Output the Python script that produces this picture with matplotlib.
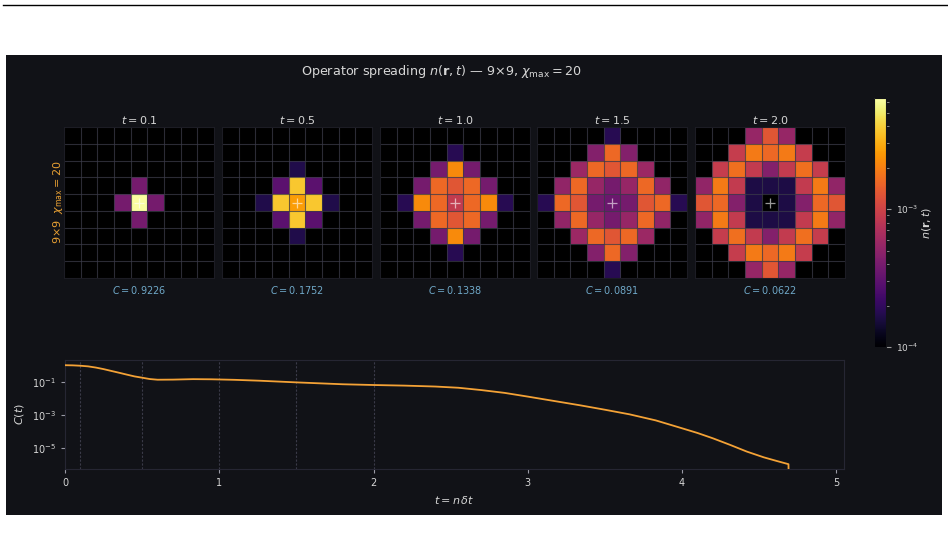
import numpy as np
import matplotlib
matplotlib.use("Agg")
import matplotlib.pyplot as plt
from matplotlib.colors import LogNorm
from matplotlib.cm import ScalarMappable
from matplotlib.patches import Rectangle
from matplotlib.lines import Line2D

OUTPUT_FILE = "out.png"

BG_DARK   = "#111217"
TXT_LIGHT = "#d6d6d6"
TXT_BLUE  = "#6fa8c8"
ORANGE    = "#e8a033"
CURVE_COL = "#f4a236"
GRID_COL  = "#3a3a48"

# snapshot times and the corresponding C values shown under each panel
SNAP_T = [0.1, 0.5, 1.0, 1.5, 2.0]
SNAP_C = [0.9226, 0.1752, 0.1338, 0.0891, 0.0622]

# n(r, t) on the 9x9 lattice, in units of 1e-4 (rows top -> bottom)
N_T01 = [
    [0, 0, 0, 0, 0, 0, 0, 0, 0],
    [0, 0, 0, 0, 0, 0, 0, 0, 0],
    [0, 0, 0, 0, 0, 0, 0, 0, 0],
    [0, 0, 0, 0, 3.9, 0, 0, 0, 0],
    [0, 0, 0, 3.9, 62, 3.9, 0, 0, 0],
    [0, 0, 0, 0, 3.9, 0, 0, 0, 0],
    [0, 0, 0, 0, 0, 0, 0, 0, 0],
    [0, 0, 0, 0, 0, 0, 0, 0, 0],
    [0, 0, 0, 0, 0, 0, 0, 0, 0],
]
N_T05 = [
    [0, 0, 0, 0, 0, 0, 0, 0, 0],
    [0, 0, 0, 0, 0, 0, 0, 0, 0],
    [0, 0, 0, 0, 1.7, 0, 0, 0, 0],
    [0, 0, 0, 3.0, 37, 3.0, 0, 0, 0],
    [0, 0, 1.7, 37, 26, 37, 1.7, 0, 0],
    [0, 0, 0, 3.0, 37, 3.0, 0, 0, 0],
    [0, 0, 0, 0, 1.7, 0, 0, 0, 0],
    [0, 0, 0, 0, 0, 0, 0, 0, 0],
    [0, 0, 0, 0, 0, 0, 0, 0, 0],
]
N_T10 = [
    [0, 0, 0, 0, 0, 0, 0, 0, 0],
    [0, 0, 0, 0, 1.8, 0, 0, 0, 0],
    [0, 0, 0, 3.9, 22, 3.9, 0, 0, 0],
    [0, 0, 3.9, 16, 13, 16, 3.9, 0, 0],
    [0, 1.8, 22, 16, 8.7, 16, 22, 1.8, 0],
    [0, 0, 3.9, 16, 13, 16, 3.9, 0, 0],
    [0, 0, 0, 3.9, 22, 3.9, 0, 0, 0],
    [0, 0, 0, 0, 1.8, 0, 0, 0, 0],
    [0, 0, 0, 0, 0, 0, 0, 0, 0],
]
N_T15 = [
    [0, 0, 0, 0, 1.8, 0, 0, 0, 0],
    [0, 0, 0, 4.5, 16, 4.5, 0, 0, 0],
    [0, 0, 5.7, 16, 13, 16, 5.7, 0, 0],
    [0, 5.2, 16, 5.5, 3.9, 5.5, 16, 5.2, 0],
    [1.8, 16, 13, 3.9, 3.5, 3.9, 13, 16, 1.8],
    [0, 5.2, 16, 5.5, 3.9, 5.5, 16, 5.2, 0],
    [0, 0, 5.7, 16, 13, 16, 5.7, 0, 0],
    [0, 0, 0, 4.5, 16, 4.5, 0, 0, 0],
    [0, 0, 0, 0, 1.8, 0, 0, 0, 0],
]
N_T20 = [
    [0, 0, 0, 5.5, 13, 5.5, 0, 0, 0],
    [0, 0, 9.0, 19, 16, 19, 9.0, 0, 0],
    [0, 9.0, 17, 8.7, 4.5, 8.7, 17, 9.0, 0],
    [5.2, 19, 8.7, 1.65, 1.65, 1.65, 8.7, 19, 5.2],
    [13, 16, 4.5, 1.65, 0.5, 1.65, 4.5, 16, 13],
    [5.2, 19, 8.7, 1.65, 1.65, 1.65, 8.7, 19, 5.2],
    [0, 9.0, 17, 8.7, 4.5, 8.7, 17, 9.0, 0],
    [0, 0, 9.0, 19, 16, 19, 9.0, 0, 0],
    [0, 0, 0, 5.5, 13, 5.5, 0, 0, 0],
]
SNAP_GRIDS = [N_T01, N_T05, N_T10, N_T15, N_T20]

# C(t)
T_CURVE = [0.0, 0.05, 0.10, 0.15, 0.20, 0.25, 0.30, 0.35, 0.40, 0.45,
           0.50, 0.55, 0.60, 0.70, 0.83, 0.95, 1.10, 1.26, 1.50, 1.80,
           2.00, 2.20, 2.40, 2.55, 2.70, 2.85, 3.00, 3.17, 3.34, 3.50,
           3.66, 3.83, 4.00, 4.10, 4.20, 4.31, 4.42, 4.53, 4.61, 4.69,
           4.70]
C_CURVE = [1.0, 0.98, 0.93, 0.85, 0.72, 0.58, 0.45, 0.35, 0.27, 0.21,
           0.175, 0.145, 0.132, 0.134, 0.143, 0.140, 0.130, 0.115, 0.091, 0.070,
           0.063, 0.058, 0.051, 0.043, 0.031, 0.021, 0.0125, 6.8e-3, 3.7e-3, 2.0e-3,
           1.05e-3, 4.5e-4, 1.5e-4, 7.8e-5, 3.7e-5, 1.5e-5, 5.8e-6, 2.6e-6, 1.6e-6, 1.0e-6,
           1e-12]

VMIN, VMAX = 1e-4, 6.4e-3


def main():
    fig = plt.figure(figsize=(9.48, 5.39), dpi=100, facecolor="white")

    # dark figure panel and the page rule above it
    fig.patches.append(Rectangle((0.0063, 0.0445), 0.9873, 0.8534,
                                 transform=fig.transFigure, facecolor=BG_DARK,
                                 edgecolor="none", zorder=-10))
    fig.add_artist(Line2D([0.003, 1.0], [0.9898, 0.9898], color="black", lw=1.0))

    fig.text(0.466, 0.868,
             r"Operator spreading $n(\mathbf{r},t)$ — 9×9, $\chi_{\max}=20$",
             ha="center", va="center", color=TXT_LIGHT, fontsize=9.2)

    cmap = plt.get_cmap("inferno").copy()
    cmap.set_bad("black")
    cmap.set_under("black")
    norm = LogNorm(vmin=VMIN, vmax=VMAX)

    lefts = [64, 222, 380, 537, 695]
    for i, (t, c, grid) in enumerate(zip(SNAP_T, SNAP_C, SNAP_GRIDS)):
        ax = fig.add_axes([lefts[i] / 948, 1 - 278 / 539, 150 / 948, 151 / 539])
        ax.set_facecolor("black")
        arr = np.array(grid, dtype=float) * 1e-4
        arr = np.ma.masked_less_equal(arr, 0)
        ax.imshow(arr, cmap=cmap, norm=norm, interpolation="nearest",
                  extent=(-0.5, 8.5, 8.5, -0.5), aspect="auto")
        for k in range(1, 9):
            ax.axvline(k - 0.5, color=GRID_COL, lw=0.8, alpha=0.75)
            ax.axhline(k - 0.5, color=GRID_COL, lw=0.8, alpha=0.75)
        ax.plot(4, 4, marker="+", color="white", alpha=0.6, ms=7, mew=0.9)
        ax.set_xlim(-0.5, 8.5)
        ax.set_ylim(8.5, -0.5)
        ax.set_xticks([])
        ax.set_yticks([])
        for sp in ax.spines.values():
            sp.set_edgecolor("#1c1c24")
        ax.set_title(f"$t = {t}$", color=TXT_LIGHT, fontsize=8, pad=2)
        ax.set_xlabel(f"$C = {c:.4f}$", color=TXT_BLUE, fontsize=7, labelpad=4)
        if i == 0:
            ax.set_ylabel(r"9×9  $\chi_{\max}=20$", color=ORANGE, fontsize=8,
                          labelpad=-1)

    # colorbar
    cax = fig.add_axes([874 / 948, 1 - 347 / 539, 12 / 948, 249 / 539])
    cb = fig.colorbar(ScalarMappable(norm=norm, cmap=cmap), cax=cax)
    cb.outline.set_edgecolor(BG_DARK)
    cax.tick_params(which="both", colors="#999999", labelcolor=TXT_LIGHT,
                    labelsize=6.5)
    cb.set_label(r"$n(\mathbf{r},t)$", color=TXT_LIGHT, fontsize=8, labelpad=1)

    # C(t) panel
    axc = fig.add_axes([65 / 948, 1 - 469 / 539, 779 / 948, 109 / 539])
    axc.set_facecolor(BG_DARK)
    for t in SNAP_T:
        axc.axvline(t, color=GRID_COL, ls=(0, (2, 1.5)), lw=0.8, zorder=1)
    axc.plot(T_CURVE, C_CURVE, color=CURVE_COL, lw=1.3, zorder=3)
    axc.set_yscale("log")
    axc.set_xlim(0, 5.05)
    axc.set_ylim(5.1e-7, 2.07)
    axc.set_yticks([1e-5, 1e-3, 1e-1])
    axc.yaxis.set_minor_locator(matplotlib.ticker.NullLocator())
    axc.set_xticks([0, 1, 2, 3, 4, 5])
    for sp in axc.spines.values():
        sp.set_edgecolor("#262633")
    axc.tick_params(colors="#9a9aa6", labelcolor=TXT_LIGHT, labelsize=7,
                    length=3)
    axc.set_xlabel(r"$t = n\,\delta t$", color=TXT_LIGHT, fontsize=8)
    axc.set_ylabel(r"$C(t)$", color=TXT_LIGHT, fontsize=8)

    fig.savefig(OUTPUT_FILE, dpi=100, facecolor=fig.get_facecolor())
    plt.close(fig)


if __name__ == "__main__":
    main()
